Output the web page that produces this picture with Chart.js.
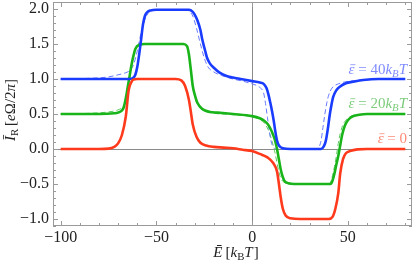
<!DOCTYPE html>
<html>
<head>
<meta charset="utf-8">
<script src="https://cdn.jsdelivr.net/npm/chart.js@4.4.1/dist/chart.umd.min.js"></script>
<style>
  html, body { margin: 0; padding: 0; background: #fff; }
  #wrap { width: 415px; height: 267px; }
</style>
</head>
<body>
<div id="wrap"><canvas id="c"></canvas></div>
<script>
// energy (k_B T) and current (eΩ/2π), one pair per curve
const redE = [-100, -80, -75, -72, -70, -68, -66, -64.5, -63, -62, -60, -40, -37, -35, -33, -32, -31, -29, -27, -24, -20, -15, -10, -5, 0, 4, 8, 11, 13, 14, 15, 16, 17.5, 20, 25, 40, 42, 43.5, 45, 46, 47.5, 49, 51, 55, 60, 80];
const redI = [0, 0, 0.005, 0.03, 0.08, 0.2, 0.46, 0.84, 0.96, 0.99, 1.0, 1.0, 0.98, 0.9, 0.7, 0.53, 0.35, 0.17, 0.09, 0.05, 0.03, 0.02, 0.01, -0.01, -0.03, -0.07, -0.12, -0.2, -0.32, -0.5, -0.7, -0.85, -0.95, -0.99, -1.0, -1.0, -0.97, -0.85, -0.63, -0.35, -0.14, -0.06, -0.03, -0.005, 0, 0];

const greenE = [-100, -80, -72, -70, -68, -67, -66, -65, -64, -63, -62, -61, -59, -56, -36, -34, -33, -32, -31, -30, -28.6, -26, -22, -18, -10, 0, 4, 6, 8, 9.4, 11, 12, 13, 14, 15, 16, 17, 19, 22, 41, 42, 43, 44, 45, 46, 47, 48.5, 50, 52, 56, 60, 80];
const greenI = [0.5, 0.5, 0.51, 0.52, 0.55, 0.6, 0.72, 0.88, 1.04, 1.2, 1.33, 1.43, 1.49, 1.5, 1.5, 1.47, 1.35, 1.13, 0.9, 0.78, 0.66, 0.57, 0.53, 0.52, 0.5, 0.47, 0.44, 0.41, 0.36, 0.3, 0.2, 0.12, 0.0, -0.15, -0.3, -0.4, -0.46, -0.49, -0.5, -0.5, -0.45, -0.35, -0.22, -0.1, 0.05, 0.2, 0.34, 0.41, 0.46, 0.49, 0.5, 0.5];

const blueE = [-100, -70, -64, -62, -61, -60, -59, -58, -57, -56, -55, -53, -50, -33, -31, -30, -28.6, -27, -26, -24.5, -23.5, -22, -20, -17, -13, -10, -6, 0, 4, 6, 7.5, 8.5, 9.5, 10.4, 11.3, 12, 13, 14, 16, 20, 36, 37.5, 38.5, 39.5, 40.6, 41.5, 42.3, 44, 45.8, 49, 52.6, 58, 66, 80];
const blueI = [1.0, 1.0, 1.0, 1.02, 1.06, 1.17, 1.35, 1.56, 1.78, 1.9, 1.95, 1.98, 1.99, 1.99, 1.96, 1.92, 1.84, 1.7, 1.56, 1.4, 1.3, 1.22, 1.16, 1.09, 1.04, 1.02, 1.0, 0.97, 0.95, 0.93, 0.87, 0.78, 0.66, 0.54, 0.4, 0.27, 0.12, 0.05, 0.01, 0, 0, 0.04, 0.12, 0.28, 0.5, 0.64, 0.74, 0.84, 0.89, 0.94, 0.96, 0.985, 1.0, 1.0];

const greenDashE = [-100, -85, -75, -70, -67, -66, -65, -64, -63, -62, -61, -59, -56, -36, -34, -33, -32, -31, -30, -28.6, -26, -22, -10, 0, 4, 6, 8, 10, 11, 12, 13, 14, 15, 17, 20, 40, 41, 42, 43, 44, 45, 46, 47.5, 50, 55, 80];
const greenDashI = [0.5, 0.51, 0.53, 0.56, 0.62, 0.7, 0.85, 1.03, 1.2, 1.34, 1.43, 1.49, 1.5, 1.5, 1.46, 1.33, 1.12, 0.92, 0.78, 0.65, 0.56, 0.52, 0.49, 0.46, 0.42, 0.38, 0.3, 0.15, 0.05, -0.06, -0.2, -0.33, -0.42, -0.48, -0.5, -0.5, -0.47, -0.38, -0.25, -0.1, 0.08, 0.22, 0.35, 0.44, 0.49, 0.5];

const blueDashE = [-100, -85, -75, -70, -66, -64, -62, -60, -58, -56, -54, -52, -48, -34, -33, -31, -29, -27, -25, -23, -20, -16, -10, -5, 0, 4, 6, 7, 8, 9, 10, 11, 13, 34, 35, 36, 37, 38, 39, 40, 41.7, 45, 51, 60, 80];
const blueDashI = [1.0, 1.01, 1.03, 1.06, 1.09, 1.12, 1.2, 1.4, 1.66, 1.85, 1.95, 1.98, 1.99, 1.99, 1.97, 1.9, 1.72, 1.5, 1.3, 1.17, 1.1, 1.05, 1.0, 0.97, 0.93, 0.88, 0.8, 0.65, 0.45, 0.25, 0.1, 0.03, 0, 0, 0.03, 0.12, 0.31, 0.5, 0.66, 0.77, 0.87, 0.93, 0.97, 0.99, 1.0];

const xTicks = [-100, -50, 0, 50];
const yTicks = [-1, -0.5, 0, 0.5, 1, 1.5, 2];

const SERIF = '"Liberation Serif", "Times New Roman", serif';
const pts = (xs, ys) => xs.map((x, i) => ({ x: x, y: ys[i] }));
const minus = v => String(v).replace('-', '\u2212');

// draws a line of mixed italic / subscript text, "bar" puts a macron over the glyph
function drawRich(ctx, parts, x, y, size, color, align) {
  const font = p => (p.it ? 'italic ' : '') + (p.sub ? size * 0.72 : size) + 'px ' + SERIF;
  let w = 0;
  parts.forEach(p => { ctx.font = font(p); p.w = ctx.measureText(p.t).width + (p.gap || 0); w += p.w; });
  let cx = align === 'right' ? x - w : align === 'center' ? x - w / 2 : x;
  ctx.fillStyle = color;
  ctx.strokeStyle = color;
  ctx.textBaseline = 'alphabetic';
  ctx.textAlign = 'left';
  parts.forEach(p => {
    ctx.font = font(p);
    ctx.fillText(p.t, cx, y + (p.sub ? size * 0.22 : 0));
    if (p.bar) {
      ctx.lineWidth = 0.8;
      ctx.beginPath();
      ctx.moveTo(cx + size * 0.12, y - size * 0.62);
      ctx.lineTo(cx + size * 0.46, y - size * 0.62);
      ctx.stroke();
    }
    cx += p.w;
  });
}

const frame = {
  id: 'frame',
  afterDraw(chart) {
    const ctx = chart.ctx, a = chart.chartArea;
    const xs = chart.scales.x, ys = chart.scales.y;
    ctx.save();
    ctx.strokeStyle = '#9a9a9a';
    ctx.lineWidth = 1;
    ctx.strokeRect(Math.round(a.left) + 0.5, Math.round(a.top) + 0.5, Math.round(a.right - a.left) - 1, Math.round(a.bottom - a.top) - 1);
    ctx.beginPath();
    for (let v = -100; v <= 80; v += 10) {
      const px = Math.round(xs.getPixelForValue(v)) + 0.5;
      const len = v % 50 === 0 ? 5 : 3;
      ctx.moveTo(px, a.bottom); ctx.lineTo(px, a.bottom - len);
      ctx.moveTo(px, a.top); ctx.lineTo(px, a.top + len);
    }
    for (let k = -11; k <= 21; k++) {
      const py = Math.round(ys.getPixelForValue(k / 10)) + 0.5;
      const len = k % 5 === 0 ? 5 : 3;
      ctx.moveTo(a.left, py); ctx.lineTo(a.left + len, py);
      ctx.moveTo(a.right, py); ctx.lineTo(a.right - len, py);
    }
    ctx.stroke();

    // axis titles
    drawRich(ctx, [{ t: '\u0112', it: true, gap: 3 }, { t: '[' }, { t: 'k', it: true }, { t: 'B', sub: true }, { t: 'T', it: true, gap: 1 }, { t: ']' }],
      236, 257, 15, '#222', 'center');
    ctx.translate(15, 110);
    ctx.rotate(-Math.PI / 2);
    drawRich(ctx, [{ t: '\u012A', it: true }, { t: 'R', sub: true, gap: 3 }, { t: '[' }, { t: 'e', it: true }, { t: '\u03A9' }, { t: '/2' }, { t: '\u03C0', it: true }, { t: ']' }],
      0, 0, 15, '#222', 'center');
    ctx.restore();

    // curve labels
    ctx.save();
    drawRich(ctx, [{ t: '\u03B5', it: true, bar: true }, { t: ' = 40' }, { t: 'k', it: true }, { t: 'B', it: true, sub: true }, { t: 'T', it: true }],
      407, 74, 15, '#7f8bff', 'right');
    drawRich(ctx, [{ t: '\u03B5', it: true, bar: true }, { t: ' = 20' }, { t: 'k', it: true }, { t: 'B', it: true, sub: true }, { t: 'T', it: true }],
      407, 108, 15, '#7ccc7c', 'right');
    drawRich(ctx, [{ t: '\u03B5', it: true, bar: true }, { t: ' = 0' }],
      407, 143, 15, '#ff8a78', 'right');
    ctx.restore();
  }
};

const solid = (data, color) => ({
  data: data, borderColor: color, borderWidth: 2.6, pointRadius: 0,
  cubicInterpolationMode: 'monotone', fill: false
});
const dashed = (data, color) => ({
  data: data, borderColor: color, borderWidth: 1, borderDash: [5, 3], pointRadius: 0,
  cubicInterpolationMode: 'monotone', fill: false
});

// keep the plot frame where the reference has it: no extra room for end labels
const noPad = s => { s.paddingTop = 0; s.paddingBottom = 0; s.paddingLeft = 0; s.paddingRight = 0; };

new Chart(document.getElementById('c'), {
  type: 'line',
  data: {
    datasets: [
      solid(pts(redE, redI), '#ff3a1c'),
      solid(pts(blueE, blueI), '#1a3cff'),
      solid(pts(greenE, greenI), '#19b419'),
      dashed(pts(blueDashE, blueDashI), '#6878ff'),
      dashed(pts(greenDashE, greenDashI), '#5cc85c')
    ]
  },
  options: {
    responsive: true,
    maintainAspectRatio: false,
    animation: false,
    layout: { padding: { top: 2, right: 3, left: 0, bottom: 0 } },
    plugins: { legend: { display: false }, tooltip: { enabled: false } },
    scales: {
      x: {
        type: 'linear', min: -104, max: 83.5,
        afterBuildTicks: s => { s.ticks = xTicks.map(v => ({ value: v })); },
        afterFit: s => { s.height = 41; noPad(s); },
        grid: { drawTicks: false, color: c => (c.tick && c.tick.value === 0 ? '#8a8a8a' : 'rgba(0,0,0,0)'), lineWidth: 1 },
        border: { display: false },
        ticks: { padding: 2, color: '#222', font: { family: SERIF, size: 16 }, maxRotation: 0, callback: v => minus(v) }
      },
      y: {
        type: 'linear', min: -1.1, max: 2.1,
        afterBuildTicks: s => { s.ticks = yTicks.map(v => ({ value: v })); },
        afterFit: s => { s.width = 53; noPad(s); },
        grid: { drawTicks: false, color: c => (c.tick && c.tick.value === 0 ? '#8a8a8a' : 'rgba(0,0,0,0)'), lineWidth: 1 },
        border: { display: false },
        ticks: { padding: 4, color: '#222', font: { family: SERIF, size: 16 }, callback: v => minus(v.toFixed(1)) }
      }
    }
  },
  plugins: [frame]
});
</script>
</body>
</html>
